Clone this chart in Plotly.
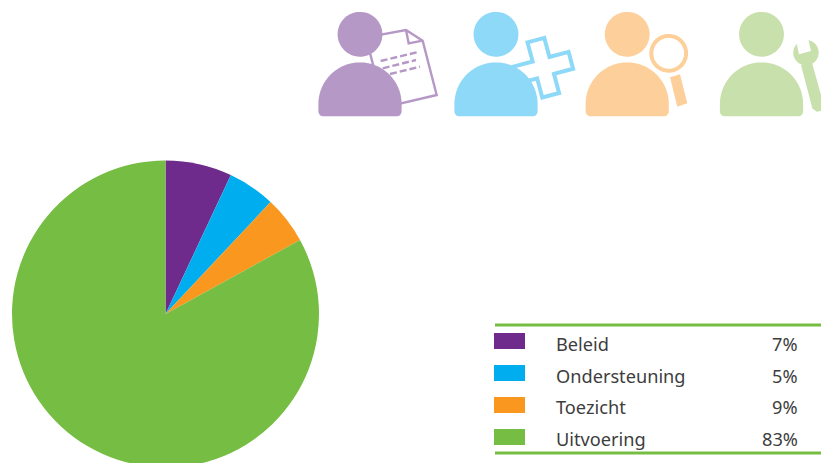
import numpy as np
import plotly.graph_objects as go

W, H = 821, 500  # canvas taller than the window: the pie runs off the bottom edge

categories = ["Beleid", "Ondersteuning", "Toezicht", "Uitvoering"]
slice_values = [7, 5, 5, 83]
table_labels = ["7%", "5%", "9%", "83%"]
colors = ["#6e2b8b", "#00aeef", "#f9971e", "#76bd43"]

PURPLE, BLUE, ORANGE, GREEN = "#b598c6", "#8ed8f8", "#fdd09b", "#c8e0ab"
TEXT = "#3d3d3d"
FONT = "Noto Sans"

def px(x): return x / W
def py(y): return 1 - y / H

def path(points, close=True):
    s = "M " + " L ".join(f"{px(x):.5f} {py(y):.5f}" for x, y in points)
    return s + (" Z" if close else "")

def arc(cx, cy, r, a0, a1, n=48):
    t = np.radians(np.linspace(a0, a1, n))
    return [(cx + r * np.cos(a), cy + r * np.sin(a)) for a in t]

shapes = []
def poly(points, fill=None, line=None, width=0, close=True, dash=None):
    shapes.append(dict(type="path", path=path(points, close), xref="paper", yref="paper",
                       fillcolor=fill if fill else "rgba(0,0,0,0)",
                       line=dict(color=line if line else "rgba(0,0,0,0)", width=width,
                                 **({"dash": dash} if dash else {}))))

def person(cx, color):
    r, base, cy, c = 41.6, 116.3, 104.0, 5
    pts = arc(cx, cy, r, 180, 360)
    pts += [(cx + r, base - c)] + arc(cx + r - c, base - c, c, 0, 90, 10)
    pts += arc(cx - r + c, base - c, c, 90, 180, 10)
    poly(pts, fill=color)
    poly(arc(cx, 34.3, 22.4, 0, 360, 72), fill=color)

# document icon
def z1(x, y): return (310 + x / 3, y / 3)
poly([z1(168, 112), z1(288, 90), z1(338, 122), z1(380, 285), z1(222, 322)],
     fill="white", line=PURPLE, width=2.4)
poly([z1(288, 90), z1(296, 130), z1(338, 122)], line=PURPLE, width=2.4, close=False)
for a, b in [((212, 183), (320, 157)), ((218, 205), (318, 180)), ((240, 222), (330, 200))]:
    poly([z1(*a), z1(*b)], line=PURPLE, width=2.4, close=False, dash="7px,3px")
person(360, PURPLE)

# cross icon
ccx, ccy, L, B = 543.3, 67.7, 28.5, 8.7
ang = np.radians(-15)
local = [(-B, -L), (B, -L), (B, -B), (L, -B), (L, B), (B, B), (B, L), (-B, L), (-B, B), (-L, B), (-L, -B), (-B, -B)]
poly([(ccx + x * np.cos(ang) - y * np.sin(ang), ccy + x * np.sin(ang) + y * np.cos(ang)) for x, y in local],
     fill="white", line=BLUE, width=4)
person(496, BLUE)

# magnifier icon
person(627.2, ORANGE)
poly(arc(668.7, 53.3, 17.4, 0, 360, 72), fill="white", line=ORANGE, width=4)
poly([(670, 77.3), (680, 74.3), (687.3, 103.3), (677.3, 106.7)], fill=ORANGE)

# wrench icon
def z2(x, y): return (575 + x / 3, y / 3)
person(761.5, GREEN)
wx, wy = z2(693, 158)
poly(arc(wx, wy, 12.7, 0, 360, 60), fill=GREEN)
poly([z2(672, 163), z2(708, 153), z2(698, 110), z2(662, 118)], fill="white")
poly([z2(678, 195), z2(710, 185), z2(738, 285), z2(738, 333), z2(725, 335), z2(712, 325)], fill=GREEN)

# table rules and swatches
for y in (325, 453):
    shapes.append(dict(type="line", xref="paper", yref="paper", x0=px(495), x1=px(821), y0=py(y), y1=py(y),
                       line=dict(color=colors[3], width=3)))
annotations = []
row_y = [344, 376, 407.5, 439]
swatch_y = [333, 365, 397, 429]
for name, pct, col, y, sy in zip(categories, table_labels, colors, row_y, swatch_y):
    shapes.append(dict(type="rect", xref="paper", yref="paper", x0=px(494), x1=px(525), y0=py(sy), y1=py(sy + 16),
                       fillcolor=col, line=dict(width=0)))
    annotations.append(dict(text=name, x=px(554), y=py(y - 0.5), xref="paper", yref="paper", xanchor="left",
                            yanchor="middle", showarrow=False, font=dict(family=FONT, size=18.2, color=TEXT)))
    annotations.append(dict(text=pct, x=px(799.5), y=py(y - 0.5), xref="paper", yref="paper", xanchor="right",
                            yanchor="middle", showarrow=False, font=dict(family=FONT, size=18.2, color=TEXT)))

fig = go.Figure(go.Pie(
    labels=categories, values=slice_values, sort=False, direction="clockwise", rotation=0,
    marker=dict(colors=colors, line=dict(width=0)), textinfo="none", hoverinfo="label+percent",
    showlegend=False,
    domain=dict(x=[px(12), px(319)], y=[py(467.5), py(160.5)]),
))
fig.update_layout(width=W, height=H, margin=dict(l=0, r=0, t=0, b=0), paper_bgcolor="white",
                  shapes=shapes, annotations=annotations, showlegend=False)
fig.write_html("out.html", config=dict(displayModeBar=False),
               post_script="document.body.style.margin='0';document.body.style.overflow='hidden';"
                           "document.documentElement.style.overflow='hidden';")
